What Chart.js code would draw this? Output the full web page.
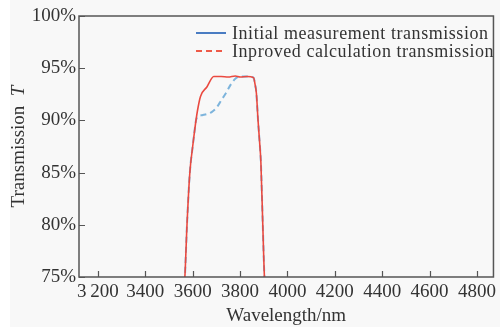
<!DOCTYPE html>
<html>
<head>
<meta charset="utf-8">
<script src="https://cdn.jsdelivr.net/npm/chart.js@4/dist/chart.umd.min.js"></script>
<style>
  html, body { margin: 0; padding: 0; background: #f8f8f8; }
  #wrap { width: 500px; height: 327px; }
</style>
</head>
<body>
<div id="wrap"><canvas id="chart" width="500" height="327"></canvas></div>
<script>
// wavelength (nm) and transmission (%)
const calcWavelengths = [3560, 3567, 3576, 3588, 3600, 3608, 3620, 3633, 3660, 3689, 3720, 3750, 3780, 3800, 3830, 3857, 3863, 3869, 3876, 3883, 3888, 3896, 3903, 3910];
const calcValues      = [73.5, 75, 80, 85, 87.5, 89, 90.9, 92.3, 93.2, 94.2, 94.2, 94.15, 94.25, 94.15, 94.2, 94.1, 93.5, 92.6, 90, 87.8, 86, 80, 75, 73.5];

const measWavelengths = [3560, 3567, 3576, 3588, 3600, 3608, 3614, 3625, 3640, 3660, 3680, 3700, 3720, 3740, 3760, 3780, 3800, 3830, 3857, 3863, 3869, 3876, 3883, 3888, 3896, 3903, 3910];
const measValues      = [73.5, 75, 80, 85, 87.5, 89, 90, 90.4, 90.5, 90.6, 90.8, 91.2, 91.9, 92.6, 93.4, 94.0, 94.2, 94.2, 94.1, 93.5, 92.6, 90, 87.8, 86, 80, 75, 73.5];

const xTickValues = [3200, 3400, 3600, 3800, 4000, 4200, 4400, 4600, 4800];
const xTickLabels = ['3\u2009200', '3400', '3600', '3800', '4000', '4200', '4400', '4600', '4800'];
const yTickValues = [75, 80, 85, 90, 95, 100];

const seriesNames = ['Initial measurement transmission', 'Inproved calculation transmission'];

const toPoints = (xs, ys) => xs.map((x, i) => ({ x: x, y: ys[i] }));
const textColor = '#333';
const frameColor = '#555';

const bgPlugin = {
    id: 'bg',
    beforeDraw(chart) {
        const ctx = chart.ctx;
        ctx.save();
        ctx.fillStyle = '#f8f8f8';
        ctx.fillRect(0, 0, chart.width, chart.height);
        ctx.fillStyle = '#ffffff';
        ctx.fillRect(0, 0, 10, chart.height);
        ctx.restore();
    }
};

// frame, inward tick marks, y title with italic T, legend
const decorPlugin = {
    id: 'decor',
    afterDraw(chart) {
        const ctx = chart.ctx;
        const a = chart.chartArea;
        const xs = chart.scales.x, ys = chart.scales.y;
        ctx.save();
        ctx.strokeStyle = frameColor;
        ctx.lineWidth = 1.5;
        ctx.strokeRect(a.left, a.top, a.right - a.left, a.bottom - a.top);
        ctx.lineWidth = 1.2;
        ctx.beginPath();
        xTickValues.forEach(v => {
            const px = Math.round(xs.getPixelForValue(v)) + 0.5;
            ctx.moveTo(px, a.bottom);
            ctx.lineTo(px, a.bottom - 6);
        });
        yTickValues.forEach(v => {
            const py = Math.round(ys.getPixelForValue(v)) + 0.5;
            ctx.moveTo(a.left, py);
            ctx.lineTo(a.left + 6, py);
        });
        ctx.stroke();

        // y axis title
        ctx.translate(19, (a.top + a.bottom) / 2);
        ctx.rotate(-Math.PI / 2);
        ctx.fillStyle = textColor;
        ctx.textBaseline = 'middle';
        const t1 = 'Transmission  ';
        ctx.font = 'italic 19px "Liberation Serif"';
        const wT = ctx.measureText('T').width;
        ctx.font = '19px "Liberation Serif"';
        const w1 = ctx.measureText(t1).width;
        const start = -(w1 + wT) / 2;
        ctx.textAlign = 'left';
        ctx.fillText(t1, start, 0);
        ctx.font = 'italic 19px "Liberation Serif"';
        ctx.fillText('T', start + w1, 0);
        ctx.setTransform(1, 0, 0, 1, 0, 0);

        // legend: blue solid, red dashed (as in the original figure)
        const rows = [
            { y: 33, color: '#4a7cc2', dash: [] },
            { y: 51, color: '#ee5a48', dash: [6, 4] }
        ];
        ctx.font = '18px "Liberation Serif"';
        ctx.textBaseline = 'middle';
        if ('letterSpacing' in ctx) ctx.letterSpacing = '0.55px';
        rows.forEach((r, i) => {
            ctx.strokeStyle = r.color;
            ctx.lineWidth = 2;
            ctx.setLineDash(r.dash);
            ctx.beginPath();
            ctx.moveTo(196, r.y);
            ctx.lineTo(226, r.y);
            ctx.stroke();
            ctx.setLineDash([]);
            ctx.fillStyle = textColor;
            ctx.fillText(seriesNames[i], 232, r.y + 1);
        });
        ctx.restore();
    }
};

new Chart(document.getElementById('chart'), {
    type: 'line',
    data: {
        datasets: [
            {
                label: seriesNames[0],
                data: toPoints(measWavelengths, measValues),
                borderColor: '#7db4dc',
                borderWidth: 2,
                borderDash: [6, 4],
                pointRadius: 0,
                cubicInterpolationMode: 'monotone',
                order: 2
            },
            {
                label: seriesNames[1],
                data: toPoints(calcWavelengths, calcValues),
                borderColor: '#ea4a40',
                borderWidth: 1.6,
                pointRadius: 0,
                cubicInterpolationMode: 'monotone',
                order: 1
            }
        ]
    },
    options: {
        responsive: false,
        animation: false,
        devicePixelRatio: 1,
        layout: { padding: { top: 16, right: 3, left: 0, bottom: 0 } },
        plugins: { legend: { display: false }, tooltip: { enabled: false } },
        scales: {
            x: {
                type: 'linear',
                min: 3120,
                max: 4870,
                grid: { display: false, drawTicks: false },
                border: { display: false },
                afterBuildTicks: scale => { scale.ticks = xTickValues.map(v => ({ value: v })); },
                afterFit: scale => { scale.height = 50; },
                ticks: {
                    padding: 4,
                    maxRotation: 0,
                    autoSkip: false,
                    color: textColor,
                    font: { family: 'Liberation Serif', size: 19 },
                    callback: value => xTickLabels[xTickValues.indexOf(value)]
                },
                title: {
                    display: true,
                    text: 'Wavelength/nm',
                    color: textColor,
                    padding: 0,
                    font: { family: 'Liberation Serif', size: 19 }
                }
            },
            y: {
                min: 75,
                max: 100,
                grid: { display: false, drawTicks: false },
                border: { display: false },
                afterBuildTicks: scale => { scale.ticks = yTickValues.map(v => ({ value: v })); },
                afterFit: scale => { scale.width = 79; },
                ticks: {
                    padding: 3,
                    color: textColor,
                    font: { family: 'Liberation Serif', size: 19 },
                    callback: value => value + '%'
                }
            }
        }
    },
    plugins: [bgPlugin, decorPlugin]
});
</script>
</body>
</html>
